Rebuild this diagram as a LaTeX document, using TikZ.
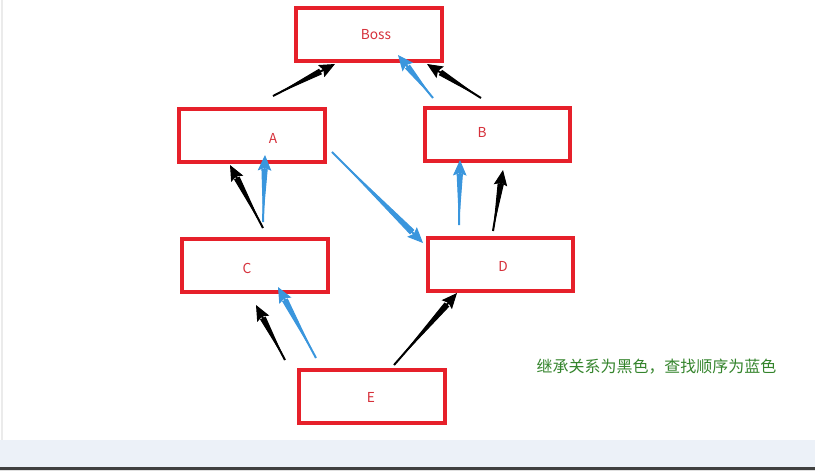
\documentclass[tikz,border=0pt]{standalone}
\usepackage{xcolor}
\usepackage{fontspec}
\newfontfamily\cjk{Noto Sans CJK SC}
\usepackage{tikz}
\usetikzlibrary{arrows.meta,calc}

\definecolor{boxred}{RGB}{230,32,42}
\definecolor{txtred}{RGB}{214,48,58}
\definecolor{findblue}{RGB}{58,150,221}
\definecolor{notegreen}{RGB}{52,132,44}
\definecolor{bandblue}{RGB}{236,241,248}

\begin{document}
\begin{tikzpicture}[
  x=0.02cm, y=-0.02cm,
  every node/.style={font=\cjk\fontsize{7.8pt}{9pt}\selectfont},
  cls/.style ={draw=boxred, line width=0.08cm, fill=white,
               minimum width=2.92cm, minimum height=1.06cm, inner sep=0pt},
  clsname/.style={text=txtred, inner sep=0pt},
  % tapered shaft: thin full-length line, then a long start tip widening to the head
  taper/.style 2 args={color=#2, line width=0.02cm,
               preaction={draw=#2, -, line width=0.04cm, shorten >=0.12cm},
               {Triangle[length=#1,width=0.12cm]}-{Stealth[length=0.31cm,width=0.27cm,inset=0.05cm]}},
  inh/.style ={taper={#1}{black}},
  mro/.style ={taper={#1}{findblue}},
]
\useasboundingbox (0,0) rectangle (815,471);

%% ─── Window frame ────────────────────────────────────────────────────────────
\fill[bandblue] (0,440) rectangle (815,467);
\fill[black!75] (0,467) rectangle (815,469.5);
\fill[black!12] (0,469.5) rectangle (815,471);
\fill[black!8]  (1.5,0) rectangle (3,440);

%% ─── Classes ─────────────────────────────────────────────────────────────────
\node[cls] (Boss) at (369,34.5)  {};
\node[cls] (A)    at (252,135.5) {};
\node[cls] (B)    at (497.5,134) {};
\node[cls] (C)    at (255,265.5) {};
\node[cls] (D)    at (500.5,264.5) {};
\node[cls] (E)    at (372,396.5) {};

\node[clsname] (lBoss) at ($(Boss)+(7,0)$)    {Boss};
\node[clsname] (lA)    at ($(A)+(21,2.5)$)    {A};
\node[clsname] (lB)    at ($(B)+(-15.5,-2)$)  {B};
\node[clsname] (lC)    at ($(C)+(-8,2.5)$)    {C};
\node[clsname] (lD)    at ($(D)+(2.5,1.5)$)   {D};
\node[clsname] (lE)    at ($(E)+(-1,0.5)$)    {E};

%% ─── Inheritance (black) ─────────────────────────────────────────────────────
\draw[inh=1.07cm] ($(A.north)+(21,-11)$)     -- ($(Boss.south)+(-34,1)$);
\draw[inh=0.96cm] ($(B.north)+(-16.5,-7.5)$) -- ($(Boss.south)+(58,1)$);
\draw[inh=1.13cm] ($(C.north)+(8,-9)$)       -- ($(A.south)+(-22,1)$);
\draw[inh=0.96cm] ($(D.north)+(-7.5,-5)$)    -- ($(B.south)+(5.5,7.5)$);
\draw[inh=0.95cm] ($(E.north)+(-87,-8)$)     -- ($(C.south)+(1,11)$);
\draw[inh=1.61cm] ($(E.north)+(22,-3)$)      -- ($(D.south)+(-43.5,0)$);

%% ─── Lookup order (blue) ─────────────────────────────────────────────────────
\draw[mro=1.32cm] ($(E.north)+(-56,-10)$)    -- ($(C.south)+(23,-7)$);
\draw[mro=1.06cm] ($(C.north)+(8,-15)$)      -- ($(A.south)+(13,-9)$);
\draw[mro=2.27cm] ($(A.east)+(5,16.5)$)      -- ($(D.west)+(-2.5,-21.5)$);
\draw[mro=1.02cm] ($(D.north)+(-41.5,-11)$)  -- ($(B.south)+(-37.5,-2.5)$);
\draw[mro=0.81cm] ($(B.north)+(-64.5,-7.5)$) -- ($(Boss.south)+(29,-8)$);

%% ─── Note ────────────────────────────────────────────────────────────────────
\node[text=notegreen, font=\cjk\fontsize{9.1pt}{11pt}\selectfont, inner sep=0pt]
  (note) at (656.5,367) {继承关系为黑色，查找顺序为蓝色};

\end{tikzpicture}
\end{document}
